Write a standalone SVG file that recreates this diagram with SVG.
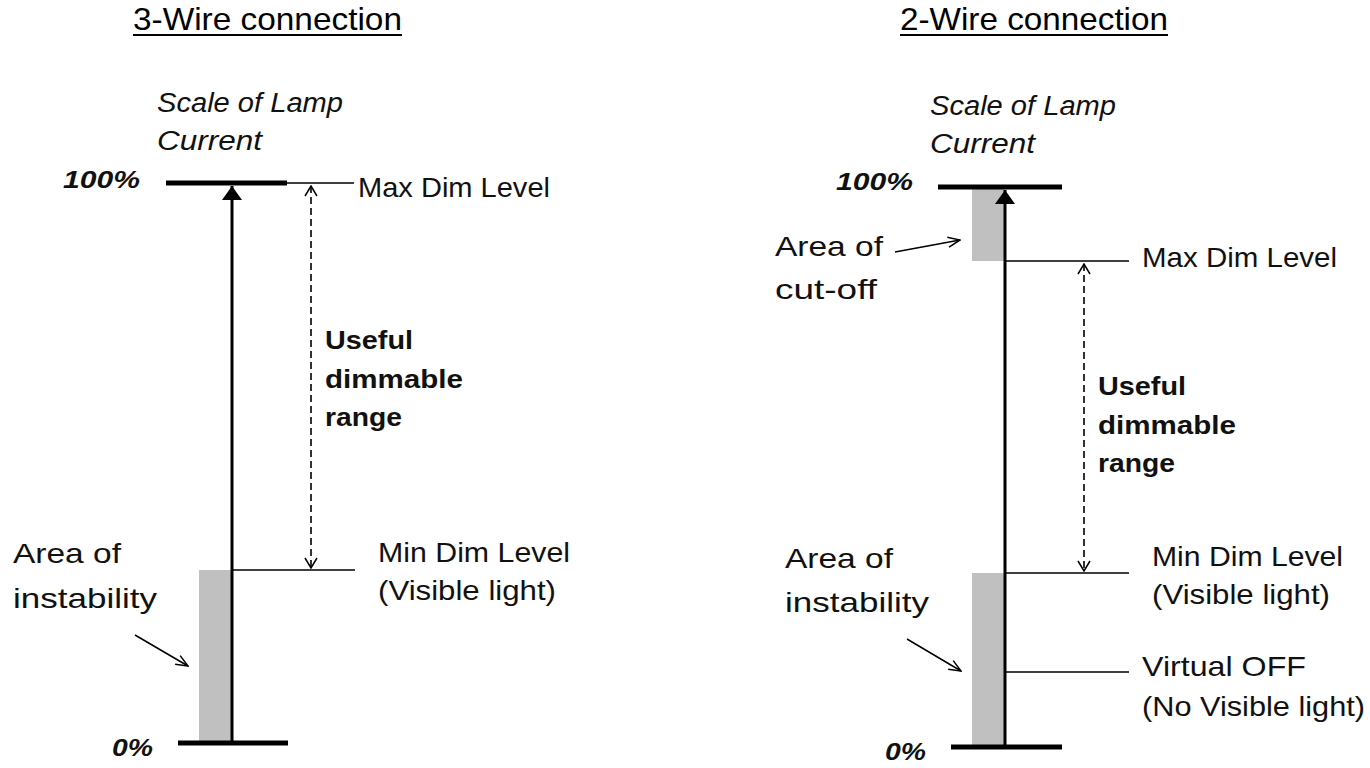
<svg xmlns="http://www.w3.org/2000/svg" width="1370" height="768" viewBox="0 0 1370 768">
<defs>
<style>
.title{font-family:"Liberation Sans",Arial,sans-serif;font-size:32px;fill:#000}
.lbl{font-family:"Liberation Sans",Arial,sans-serif;font-size:28px;fill:#111}
.it{font-family:"Liberation Sans",Arial,sans-serif;font-size:27px;font-style:italic;fill:#111}
.pct{font-family:"Liberation Sans",Arial,sans-serif;font-size:24px;font-style:italic;font-weight:bold;fill:#111}
.bold{font-family:"Liberation Sans",Arial,sans-serif;font-size:26px;font-weight:bold;fill:#111}
.bar{stroke:#000;stroke-width:5;fill:none}
.axis{stroke:#000;stroke-width:3;fill:none}
.thin{stroke:#000;stroke-width:1.5;fill:none}
.dash{stroke:#000;stroke-width:1.6;stroke-dasharray:7,4;fill:none}
.gray{fill:#c0c0c0}
</style>
<marker id="solid" viewBox="0 0 14 20" refX="14" refY="10" markerWidth="14" markerHeight="20" markerUnits="userSpaceOnUse" orient="auto">
<path d="M0,0 L14,10 L0,20 Z" fill="#000"/>
</marker>
<marker id="open" viewBox="0 0 12 14" refX="11" refY="7" markerWidth="12" markerHeight="14" markerUnits="userSpaceOnUse" orient="auto-start-reverse">
<path d="M1,1 L11,7 L1,13" fill="none" stroke="#000" stroke-width="1.5"/>
</marker>
<marker id="pt" viewBox="0 0 14 12" refX="13" refY="6" markerWidth="14" markerHeight="12" markerUnits="userSpaceOnUse" orient="auto">
<path d="M1,1 L13,6 L1,11" fill="none" stroke="#000" stroke-width="1.5"/>
</marker>
</defs>
<rect width="1370" height="768" fill="#fff"/>

<g id="titles">
<text class="title" x="133" y="30" textLength="269" lengthAdjust="spacingAndGlyphs">3-Wire connection</text>
<line x1="133" y1="35" x2="402" y2="35" stroke="#000" stroke-width="2"/>
<text class="title" x="900" y="30" textLength="268" lengthAdjust="spacingAndGlyphs">2-Wire connection</text>
<line x1="900" y1="35" x2="1168" y2="35" stroke="#000" stroke-width="2"/>
</g>

<!-- Left diagram -->
<g id="left-scale">
<rect class="gray" x="199" y="570" width="32" height="173"/>
<line class="bar" x1="166" y1="183" x2="287" y2="183"/>
<line class="bar" x1="178" y1="743" x2="288" y2="743"/>
<text class="it" x="157" y="112" textLength="186" lengthAdjust="spacingAndGlyphs">Scale of Lamp</text>
<text class="it" x="157" y="150" textLength="105" lengthAdjust="spacingAndGlyphs">Current</text>
<text class="pct" x="63" y="188" textLength="77" lengthAdjust="spacingAndGlyphs">100%</text>
<text class="pct" x="112" y="756" textLength="41" lengthAdjust="spacingAndGlyphs">0%</text>
</g>
<g id="left-max">
<line class="thin" x1="287" y1="183" x2="354" y2="183"/>
<text class="lbl" x="358" y="197" textLength="192" lengthAdjust="spacingAndGlyphs">Max Dim Level</text>
</g>
<g id="left-useful">
<text class="bold" x="325" y="349" textLength="88" lengthAdjust="spacingAndGlyphs">Useful</text>
<text class="bold" x="325" y="388" textLength="138" lengthAdjust="spacingAndGlyphs">dimmable</text>
<text class="bold" x="325" y="426" textLength="77" lengthAdjust="spacingAndGlyphs">range</text>
</g>
<g id="left-min">
<line class="thin" x1="231" y1="570" x2="355" y2="570"/>
<text class="lbl" x="378" y="562" textLength="192" lengthAdjust="spacingAndGlyphs">Min Dim Level</text>
<text class="lbl" x="378" y="600" textLength="178" lengthAdjust="spacingAndGlyphs">(Visible light)</text>
</g>
<g id="left-instability">
<text class="lbl" x="13" y="563" textLength="108" lengthAdjust="spacingAndGlyphs">Area of</text>
<text class="lbl" x="13" y="608" textLength="144" lengthAdjust="spacingAndGlyphs">instability</text>
</g>

<!-- Right diagram -->
<g id="right-scale">
<rect class="gray" x="972" y="187" width="33" height="74"/>
<rect class="gray" x="972" y="573" width="33" height="174"/>
<line class="bar" x1="938" y1="187" x2="1062" y2="187"/>
<line class="bar" x1="951" y1="747" x2="1062" y2="747"/>
<text class="it" x="930" y="115" textLength="186" lengthAdjust="spacingAndGlyphs">Scale of Lamp</text>
<text class="it" x="930" y="153" textLength="105" lengthAdjust="spacingAndGlyphs">Current</text>
<text class="pct" x="836" y="190" textLength="77" lengthAdjust="spacingAndGlyphs">100%</text>
<text class="pct" x="885" y="760" textLength="41" lengthAdjust="spacingAndGlyphs">0%</text>
</g>
<g id="right-cutoff">
<text class="lbl" x="775" y="256" textLength="108" lengthAdjust="spacingAndGlyphs">Area of</text>
<text class="lbl" x="775" y="299" textLength="102" lengthAdjust="spacingAndGlyphs">cut-off</text>
</g>
<g id="right-max">
<line class="thin" x1="1005" y1="261" x2="1129" y2="261"/>
<text class="lbl" x="1142" y="267" textLength="195" lengthAdjust="spacingAndGlyphs">Max Dim Level</text>
</g>
<g id="right-useful">
<text class="bold" x="1098" y="395" textLength="88" lengthAdjust="spacingAndGlyphs">Useful</text>
<text class="bold" x="1098" y="434" textLength="138" lengthAdjust="spacingAndGlyphs">dimmable</text>
<text class="bold" x="1098" y="472" textLength="77" lengthAdjust="spacingAndGlyphs">range</text>
</g>
<g id="right-min">
<line class="thin" x1="1005" y1="573" x2="1129" y2="573"/>
<text class="lbl" x="1152" y="566" textLength="191" lengthAdjust="spacingAndGlyphs">Min Dim Level</text>
<text class="lbl" x="1152" y="604" textLength="178" lengthAdjust="spacingAndGlyphs">(Visible light)</text>
</g>
<g id="right-virtual-off">
<line class="thin" x1="1005" y1="672" x2="1129" y2="672"/>
<text class="lbl" x="1142" y="676" textLength="164" lengthAdjust="spacingAndGlyphs">Virtual OFF</text>
<text class="lbl" x="1142" y="716" textLength="223" lengthAdjust="spacingAndGlyphs">(No Visible light)</text>
</g>
<g id="right-instability">
<text class="lbl" x="785" y="568" textLength="108" lengthAdjust="spacingAndGlyphs">Area of</text>
<text class="lbl" x="785" y="612" textLength="144" lengthAdjust="spacingAndGlyphs">instability</text>
</g>

<g id="connectors">
<line class="axis" x1="232" y1="743" x2="232" y2="186" marker-end="url(#solid)"/>
<line class="dash" x1="311" y1="186" x2="311" y2="568" marker-start="url(#open)" marker-end="url(#open)"/>
<line class="thin" x1="135" y1="635" x2="188" y2="666" marker-end="url(#pt)"/>
<line class="axis" x1="1005" y1="747" x2="1005" y2="190" marker-end="url(#solid)"/>
<line class="dash" x1="1084" y1="264" x2="1084" y2="571" marker-start="url(#open)" marker-end="url(#open)"/>
<line class="thin" x1="895" y1="252" x2="960" y2="240" marker-end="url(#pt)"/>
<line class="thin" x1="907" y1="639" x2="961" y2="671" marker-end="url(#pt)"/>
</g>
</svg>
